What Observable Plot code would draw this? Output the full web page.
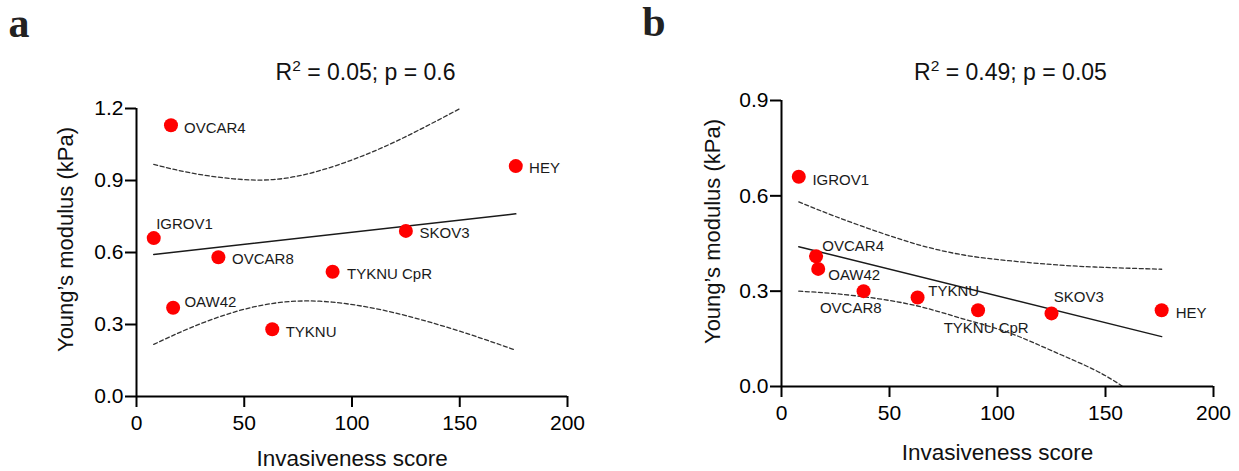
<!DOCTYPE html>
<html><head><meta charset="utf-8">
<script src="https://cdn.jsdelivr.net/npm/d3@7"></script>
<script src="https://cdn.jsdelivr.net/npm/@observablehq/plot@0.6"></script>
<style>
body{margin:0;background:#fff;}
#wrap{position:relative;width:1239px;height:471px;overflow:hidden;background:#fff;}
.panel{position:absolute;top:0;}
</style></head><body><div id="wrap"></div>
<script>
// ---------- data ----------
const cellLines = ["OVCAR4", "HEY", "IGROV1", "SKOV3", "OVCAR8", "TYKNU CpR", "OAW42", "TYKNU"];
const invasivenessScore = [16, 176, 8, 125, 38, 91, 17, 63];
const modulusA = [1.13, 0.96, 0.66, 0.69, 0.58, 0.52, 0.37, 0.28];
const modulusB = [0.41, 0.24, 0.66, 0.23, 0.30, 0.24, 0.37, 0.28];

// regression fits (solid) read at the ends
const fitX = [8, 176];
const fitA = [0.592, 0.761];
const fitB = [0.440, 0.157];

// confidence bands (dashed) read at sample points
const upperAX = [8, 25, 45, 65, 85, 105, 125, 150];
const upperA  = [0.967, 0.932, 0.907, 0.905, 0.941, 1.003, 1.083, 1.199];
const lowerAX = [8, 25, 45, 65, 85, 105, 125, 150, 176];
const lowerA  = [0.217, 0.286, 0.351, 0.390, 0.397, 0.376, 0.337, 0.272, 0.193];
const upperBX = [8, 25, 45, 65, 85, 105, 125, 145, 176];
const upperB  = [0.581, 0.535, 0.486, 0.443, 0.413, 0.396, 0.384, 0.376, 0.369];
const lowerBX = [8, 25, 45, 65, 85, 105, 125, 145, 158];
const lowerB  = [0.300, 0.292, 0.276, 0.250, 0.211, 0.170, 0.113, 0.052, 0.0];

const xTicks = [0, 50, 100, 150, 200];
const yTicksA = [0, 0.3, 0.6, 0.9, 1.2];
const yTicksB = [0, 0.3, 0.6, 0.9];
const titleA = "R² = 0.05; p = 0.6";
const titleB = "R² = 0.49; p = 0.05";
const letterA = "a";
const letterB = "b";
const xLabel = "Invasiveness score";
const yLabel = "Young’s modulus (kPa)";

// ---------- layout (positions in px, global coords) ----------
const layoutA = {
  left: 0, width: 620, marginLeft: 136, marginRight: 53, marginTop: 108, marginBottom: 75,
  letter: [8, 36], title: [365, 79], xLab: [351.7, 465.5], yLab: [72, 239],
  offsets: {"OVCAR4": [13, 7.4], "HEY": [13.3, 6.7], "IGROV1": [2.4, -9], "SKOV3": [13.6, 7.3],
            "OVCAR8": [13.7, 7], "TYKNU CpR": [14.4, 7.3], "OAW42": [11.3, -0.3], "TYKNU": [13.4, 7.7]}
};
const layoutB = {
  left: 620, width: 619, marginLeft: 161, marginRight: 26, marginTop: 100, marginBottom: 85,
  letter: [641.7, 35], title: [1010, 79], xLab: [997, 459], yLab: [719, 231],
  offsets: {"IGROV1": [13.6, 8], "OVCAR4": [6.3, -5], "OAW42": [10, 11], "OVCAR8": [-43.7, 22.3],
            "TYKNU": [10.7, -1.3], "TYKNU CpR": [-34.4, 23], "SKOV3": [2.3, -11], "HEY": [14, 7.4]}
};

const FONT = "Liberation Sans, Arial, Helvetica, sans-serif";
const H = 471;

function panel(L, modulus, yDomain, yTicks, fitY, uX, u, lX, l, title, letter) {
  const fx = (gx) => gx - L.left - L.marginLeft;   // dx relative to frame left
  const fy = (gy) => gy - L.marginTop;             // dy relative to frame top
  const pts = cellLines.map((c, i) => ({c, x: invasivenessScore[i], y: modulus[i]}));
  const fit = fitX.map((x, i) => ({x, y: fitY[i]}));
  const up = uX.map((x, i) => ({x, y: u[i]}));
  const lo = lX.map((x, i) => ({x, y: l[i]}));
  const labels = pts.map(p => Plot.text([p], {
    x: "x", y: "y", text: "c", dx: L.offsets[p.c][0], dy: L.offsets[p.c][1],
    textAnchor: "start", lineAnchor: "bottom", fontSize: 15, fill: "#1a1a1a"
  }));
  const svg = Plot.plot({
    width: L.width, height: H,
    marginLeft: L.marginLeft, marginRight: L.marginRight, marginTop: L.marginTop, marginBottom: L.marginBottom,
    style: {fontFamily: FONT, background: "white", color: "black", overflow: "visible"},
    x: {domain: [0, 200]},
    y: {domain: yDomain},
    marks: [
      ...labels,
      Plot.line(fit, {x: "x", y: "y", stroke: "#1a1a1a", strokeWidth: 1.5}),
      Plot.line(up, {x: "x", y: "y", curve: "natural", stroke: "#333", strokeWidth: 1.3, strokeDasharray: "4,2.6"}),
      Plot.line(lo, {x: "x", y: "y", curve: "natural", stroke: "#333", strokeWidth: 1.3, strokeDasharray: "4,2.6"}),
      Plot.dot(pts, {x: "x", y: "y", r: 7, fill: "#ff0000", stroke: "none"}),
      Plot.ruleX([0], {stroke: "black", strokeWidth: 2}),
      Plot.ruleY([0], {stroke: "black", strokeWidth: 2}),
      Plot.axisX({ticks: xTicks, tickSize: 11, tickPadding: 8, fontSize: 21, strokeWidth: 2, label: null, tickFormat: d3.format("d")}),
      Plot.axisY({ticks: yTicks, tickSize: 11, tickPadding: 2, fontSize: 21, strokeWidth: 2, label: null, tickFormat: d3.format(".1f")}),
      Plot.text([letter], {text: d => d, frameAnchor: "top-left", dx: fx(L.letter[0]), dy: fy(L.letter[1]),
        textAnchor: "start", lineAnchor: "bottom", fontSize: 42, fontWeight: "bold", fontFamily: "Liberation Serif, DejaVu Serif, serif", fill: "#222"}),
      Plot.text([title], {text: d => d, frameAnchor: "top-left", dx: fx(L.title[0]), dy: fy(L.title[1]),
        textAnchor: "middle", lineAnchor: "bottom", fontSize: 23, fill: "#111"}),
      Plot.text([xLabel], {text: d => d, frameAnchor: "top-left", dx: fx(L.xLab[0]), dy: fy(L.xLab[1]),
        textAnchor: "middle", lineAnchor: "bottom", fontSize: 22.5, fill: "#111"}),
      Plot.text([yLabel], {text: d => d, frameAnchor: "top-left", dx: fx(L.yLab[0]), dy: fy(L.yLab[1]),
        textAnchor: "middle", lineAnchor: "bottom", rotate: -90, fontSize: 22, fill: "#111"})
    ]
  });
  // superscript the "2" in R²
  const ns = "http://www.w3.org/2000/svg";
  svg.querySelectorAll("text").forEach(t => {
    const s = t.textContent;
    if (s.includes("²") && t.children.length === 0) {
      const [pre, post] = s.split("²");
      t.textContent = "";
      const a = document.createElementNS(ns, "tspan"); a.textContent = pre;
      const b = document.createElementNS(ns, "tspan"); b.textContent = "2";
      b.setAttribute("font-size", "15.5"); b.setAttribute("dy", "-8.5");
      const c = document.createElementNS(ns, "tspan"); c.textContent = post; c.setAttribute("dy", "8.5");
      t.append(a, b, c);
    }
  });
  const div = document.createElement("div");
  div.className = "panel";
  div.style.left = L.left + "px";
  div.appendChild(svg);
  return div;
}

const wrap = document.getElementById("wrap");
wrap.appendChild(panel(layoutA, modulusA, [0, 1.2], yTicksA, fitA, upperAX, upperA, lowerAX, lowerA, titleA, letterA));
wrap.appendChild(panel(layoutB, modulusB, [0, 0.9], yTicksB, fitB, upperBX, upperB, lowerBX, lowerB, titleB, letterB));
</script>
</body></html>
